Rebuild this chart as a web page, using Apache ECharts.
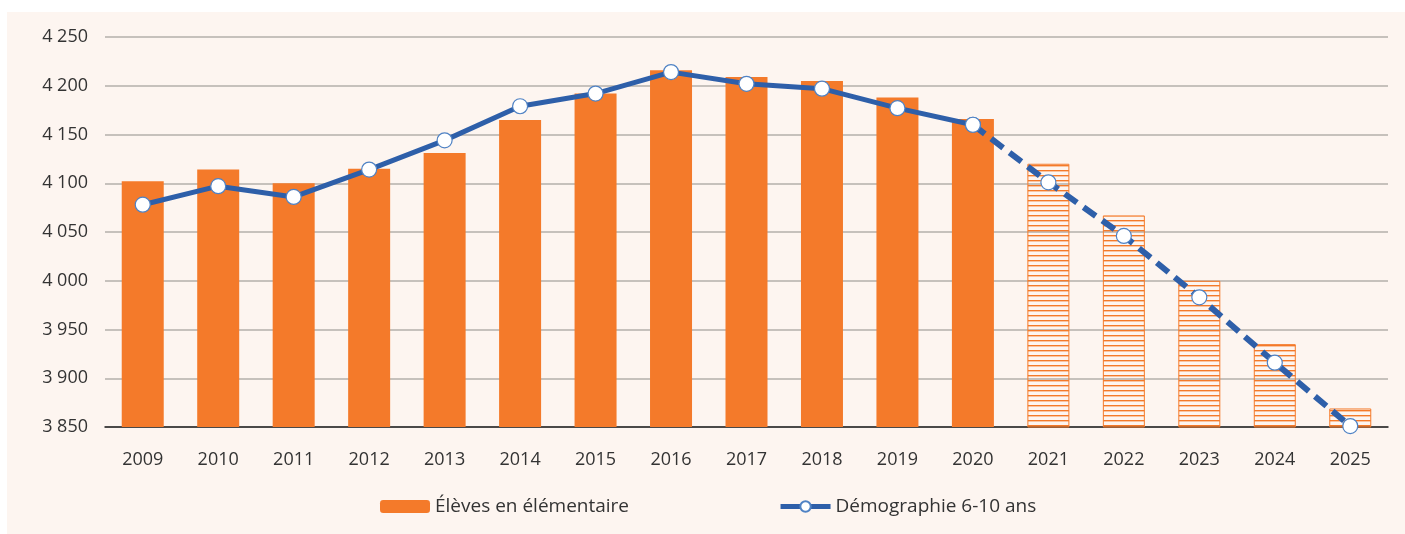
<!DOCTYPE html>
<html lang="fr">
<head>
  <meta charset="UTF-8">
  <title>Élèves en élémentaire</title>
  <script src="https://cdn.jsdelivr.net/npm/echarts@6/dist/echarts.min.js"></script>
  <style>
    * {
      margin: 0;
      padding: 0
    }

    html, body {
      width: 100%;
      height: 100%;
      background: #fff;
    }

    #main {
      width: 1405px;
      height: 534px;
    }
  </style>
</head>
<body>
  <div id="main"></div>
</body>
<script type="text/javascript">
  // données
  var years = ['2009', '2010', '2011', '2012', '2013', '2014', '2015', '2016', '2017',
    '2018', '2019', '2020', '2021', '2022', '2023', '2024', '2025'];
  var eleves = [4102, 4114, 4100, 4115, 4131, 4165, 4192, 4216, 4209,
    4205, 4188, 4166, 4120, 4067, 4000, 3935, 3869];
  var demographie = [4078, 4097, 4086, 4114, 4144, 4179, 4192, 4214, 4202,
    4197, 4177, 4160, 4101, 4046, 3983, 3916, 3851];
  var firstForecast = 12; // 2021 -> projections (hachures / pointillés)

  var orange = '#F47A2A';
  var blue = '#2E5FA9';

  // motif hachuré horizontal
  var hatch = document.createElement('canvas');
  hatch.width = 10;
  hatch.height = 5;
  var ctx = hatch.getContext('2d');
  ctx.fillStyle = orange;
  ctx.fillRect(0, 0, 10, 1.4);

  var barData = eleves.map(function (v, i) {
    if (i < firstForecast) return v;
    return {
      value: v,
      itemStyle: {
        color: {image: hatch, repeat: 'repeat'},
        borderColor: orange,
        borderWidth: 1
      }
    };
  });
  var lineSolid = demographie.map(function (v, i) {
    return i < firstForecast ? v : null;
  });
  var lineDashed = demographie.map(function (v, i) {
    return i >= firstForecast - 1 ? v : null;
  });

  var font = 'Open Sans';
  var chart = echarts.init(document.getElementById('main'));
  chart.setOption({
    animation: false,
    textStyle: {fontFamily: font},
    graphic: [{
      type: 'rect',
      z: -10,
      shape: {x: 7, y: 12, width: 1398, height: 522},
      style: {fill: '#FDF5F0'}
    }],
    grid: {left: 105, right: 17, top: 37, bottom: 107},
    legend: {
      left: 380,
      top: 497,
      padding: 0,
      itemWidth: 50,
      itemHeight: 13,
      itemGap: 149,
      textStyle: {fontSize: 19, color: '#333', fontFamily: font},
      data: [
        'Élèves en élémentaire',
        {name: 'Démographie 6-10 ans', lineStyle: {width: 5, type: 'solid'}}
      ]
    },
    xAxis: {
      type: 'category',
      data: years,
      axisLine: {lineStyle: {color: '#222', width: 1.5}},
      axisTick: {inside: true, length: 9, lineStyle: {color: '#555'}},
      axisLabel: {fontSize: 18, color: '#333', margin: 24}
    },
    yAxis: {
      type: 'value',
      min: 3850,
      max: 4250,
      interval: 50,
      axisLine: {show: false},
      axisTick: {show: false},
      axisLabel: {
        fontSize: 18, color: '#333', margin: 17,
        formatter: function (v) {
          return String(v).replace(/\B(?=(\d{3})+(?!\d))/g, ' ');
        }
      },
      splitLine: {lineStyle: {color: '#B3AFAB', width: 1.5}}
    },
    series: [
      {
        name: 'Élèves en élémentaire',
        type: 'bar',
        barWidth: 42,
        itemStyle: {color: orange},
        data: barData
      },
      {
        name: 'Démographie 6-10 ans',
        type: 'line',
        symbol: 'circle',
        symbolSize: 15,
        z: 5,
        lineStyle: {color: blue, width: 5},
        itemStyle: {color: '#fff', borderColor: '#4F82C4', borderWidth: 1.2},
        data: lineSolid
      },
      {
        name: 'Démographie 6-10 ans',
        type: 'line',
        symbol: 'circle',
        symbolSize: 15,
        z: 4,
        lineStyle: {color: blue, width: 6, type: [15, 8]},
        itemStyle: {color: '#fff', borderColor: '#4F82C4', borderWidth: 1.2},
        data: lineDashed
      }
    ]
  });
</script>
</html>
